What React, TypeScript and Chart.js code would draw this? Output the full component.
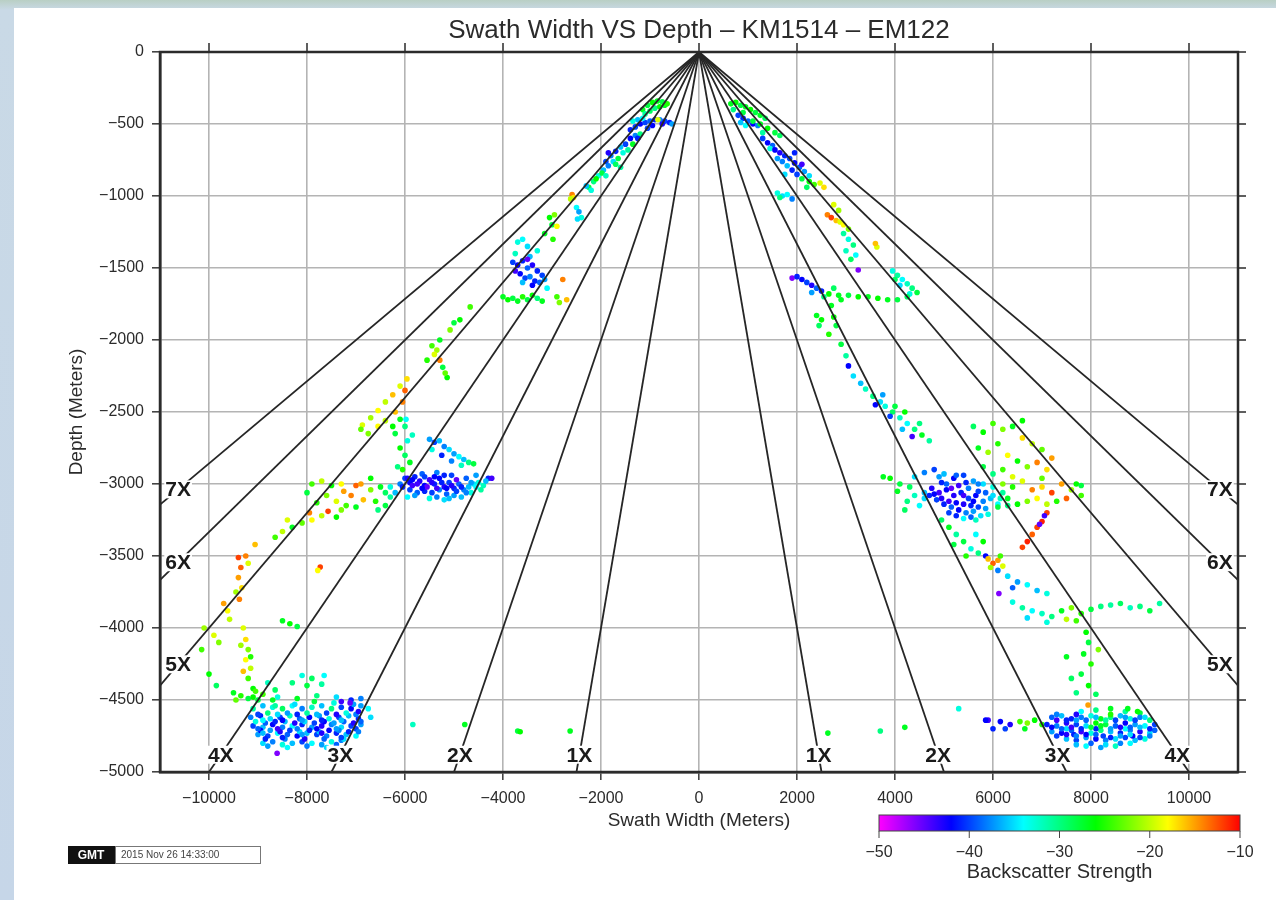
import React, { useEffect, useRef } from 'react';
import { Chart, registerables } from 'chart.js';

Chart.register(...registerables);

// ---------- data ----------
const TITLE = 'Swath Width VS Depth \u2013 KM1514 \u2013 EM122';
const X_TITLE = 'Swath Width (Meters)';
const Y_TITLE = 'Depth (Meters)';
const CB_TITLE = 'Backscatter Strength';
const STAMP = '2015 Nov 26 14:33:00';

const X_MIN = -11000;
const X_MAX = 11000;
const X_TICKS = [-10000, -8000, -6000, -4000, -2000, 0, 2000, 4000, 6000, 8000, 10000];
const Y_MIN = -5000;
const Y_MAX = 0;
const Y_STEP = 500;

// coverage ratio lines (swath width = ratio x depth)
const RATIOS = [1, 2, 3, 4, 5, 6, 7];
const RATIO_LINE_DEPTH = -5000;
const RATIO_LABEL_DEPTH = -4880;
const RATIO_LABEL_X = 10630;

// colour scale (backscatter, dB)
const CB_MIN = -50;
const CB_MAX = -10;
const CB_TICKS = [-50, -40, -30, -20, -10];
const CPT_STOPS = [-50, -42, -34, -26, -18, -10];
const CPT_COLORS = [
  [255, 0, 255],
  [0, 0, 255],
  [0, 255, 255],
  [0, 255, 0],
  [255, 255, 0],
  [255, 0, 0],
];

// soundings: [across-track (m), depth (m), backscatter (dB)]
const PORT_SHALLOW: number[][] = [
  [-1150, -400, -27], [-1050, -370, -28], [-950, -350, -26], [-850, -340, -27], [-750, -345, -28],
  [-1000, -410, -29], [-900, -390, -30], [-800, -380, -26], [-700, -370, -27], [-1100, -430, -31], [-650, -360, -25],
  [-1400, -540, -41], [-1300, -520, -40], [-1200, -500, -42], [-1100, -490, -40], [-1000, -480, -39],
  [-900, -470, -41], [-800, -470, -38], [-700, -480, -40], [-600, -490, -41], [-550, -500, -37],
  [-1250, -470, -36], [-1150, -460, -34], [-840, -470, -19], [-950, -510, -42], [-1050, -530, -40],
  [-1350, -480, -33], [-750, -500, -43],
  [-1900, -760, -40], [-1800, -720, -38], [-1700, -690, -41], [-1600, -660, -36], [-1500, -640, -40],
  [-1400, -600, -42], [-1300, -580, -38], [-1200, -570, -30], [-1650, -740, -28], [-1550, -700, -33],
  [-1450, -680, -31], [-1350, -640, -27], [-1750, -760, -35], [-1250, -600, -41], [-1850, -700, -43],
  [-2250, -940, -28], [-2150, -900, -30], [-2050, -860, -33], [-1950, -820, -36], [-1850, -790, -38],
  [-2200, -960, -33], [-2100, -880, -26], [-1980, -840, -28], [-2300, -930, -36], [-1900, -860, -32],
  [-1700, -780, -29], [-1600, -800, -31],
  [-2590, -990, -14], [-2560, -1010, -17], [-2620, -1020, -20],
  [-2500, -1080, -34], [-2450, -1110, -37], [-2400, -1150, -33], [-2480, -1160, -35],
  [-3050, -1150, -26], [-2950, -1130, -22], [-3000, -1200, -28], [-2900, -1210, -18],
  [-3150, -1260, -27], [-2980, -1300, -25],
  [-3700, -1320, -33], [-3600, -1300, -34], [-3500, -1350, -35], [-3750, -1400, -32], [-3450, -1420, -36], [-3300, -1380, -33],
  [-3800, -1460, -40], [-3700, -1480, -42], [-3600, -1450, -41], [-3500, -1500, -39], [-3400, -1480, -43],
  [-3300, -1520, -41], [-3200, -1550, -40], [-3650, -1540, -42], [-3550, -1570, -40], [-3450, -1560, -38],
  [-3350, -1590, -41], [-3250, -1600, -39], [-3150, -1580, -37], [-3750, -1520, -44], [-3600, -1600, -36],
  [-3100, -1640, -34], [-3400, -1620, -42], [-3500, -1440, -45],
  [-2780, -1580, -14],
  [-4000, -1700, -27], [-3900, -1720, -26], [-3800, -1710, -28], [-3700, -1730, -27], [-3600, -1700, -25],
  [-3500, -1720, -28], [-3400, -1690, -26], [-3300, -1710, -30], [-3200, -1730, -27], [-2900, -1700, -24],
  [-2700, -1720, -16], [-2850, -1740, -22],
];

const PORT_MID: number[][] = [
  [-4670, -1770, -24], [-4880, -1860, -26], [-5080, -1930, -22], [-5290, -2000, -27], [-5350, -2070, -21],
  [-5550, -2140, -25], [-5230, -2190, -28], [-5140, -2260, -26], [-5290, -2140, -14], [-5400, -2100, -19],
  [-5180, -2230, -23], [-5000, -1880, -28], [-5450, -2040, -24],
  [-5960, -2270, -17], [-6100, -2320, -19], [-6250, -2380, -16], [-6400, -2430, -20], [-6550, -2490, -18],
  [-6700, -2540, -21], [-6870, -2590, -19], [-6900, -2620, -23], [-6750, -2650, -22], [-6550, -2600, -18],
  [-6400, -2560, -20], [-6200, -2500, -16], [-6050, -2430, -14], [-6000, -2350, -13],
  [-6100, -2550, -27], [-6000, -2600, -30], [-6200, -2650, -28], [-5950, -2700, -33], [-6100, -2750, -26],
  [-6000, -2800, -29], [-5900, -2850, -27], [-6150, -2880, -30], [-5850, -2660, -32], [-6050, -2900, -25],
  [-6250, -2600, -26], [-5980, -2550, -34],
  [-5500, -2690, -37], [-5400, -2710, -40], [-5300, -2700, -36], [-5200, -2740, -38], [-5100, -2760, -35],
  [-5000, -2790, -37], [-4900, -2810, -34], [-4800, -2830, -36], [-4700, -2850, -30], [-4600, -2860, -28],
  [-5450, -2760, -33], [-5250, -2800, -41], [-5050, -2840, -38], [-4850, -2870, -32],
  [-6100, -3000, -38], [-6000, -2960, -40], [-5900, -2990, -42], [-5800, -2950, -41], [-5700, -2980, -43],
  [-5600, -3010, -42], [-5500, -2970, -44], [-5400, -3000, -41], [-5300, -2960, -42], [-5200, -3020, -43],
  [-5100, -2990, -40], [-5000, -3030, -41], [-4900, -3000, -39], [-4800, -3040, -38], [-4700, -3020, -36],
  [-4600, -3000, -35], [-4500, -2990, -33], [-4400, -3010, -32], [-5900, -3040, -40], [-5750, -3060, -39],
  [-5600, -3050, -41], [-5450, -3060, -40], [-5300, -3040, -38], [-5150, -3070, -39], [-5000, -3080, -37],
  [-4850, -3090, -36], [-5650, -2930, -39], [-5350, -2920, -38], [-5050, -2940, -40], [-4750, -2960, -39],
  [-4550, -2940, -37], [-4300, -2960, -41], [-4230, -2960, -44], [-6200, -3060, -36], [-5950, -3090, -34],
  [-5500, -3100, -33], [-5200, -3110, -35], [-4950, -2970, -45], [-5550, -3020, -45], [-5850, -3010, -44],
  [-4650, -3060, -33], [-4450, -3040, -31],
  [-6050, -3020, -41], [-5950, -2960, -43], [-5850, -2970, -42], [-5750, -3000, -44], [-5650, -3030, -42],
  [-5450, -2990, -43], [-5350, -3030, -44], [-5250, -2990, -41], [-5150, -3030, -42], [-5050, -3010, -43],
  [-4950, -3050, -40], [-4850, -3020, -41], [-4750, -3060, -38], [-5400, -2950, -42], [-5600, -2950, -40],
  [-5200, -2940, -41], [-5800, -3080, -37], [-5350, -3090, -38], [-5100, -3100, -36], [-4650, -2990, -37],
  [-4550, -3020, -34], [-4350, -2980, -36],
  [-7900, -3000, -24], [-7700, -2980, -20], [-7500, -3010, -26], [-7300, -3000, -18], [-7000, -3010, -13],
  [-6900, -3000, -15], [-6700, -3040, -22], [-6500, -3020, -27], [-6400, -3060, -29], [-6300, -3090, -31],
  [-7100, -3080, -14], [-6850, -3110, -16], [-6600, -3120, -25], [-6400, -3150, -28], [-7600, -3080, -22],
  [-7400, -3120, -19], [-7200, -3150, -24], [-7000, -3160, -27], [-7800, -3130, -25], [-8000, -3060, -28],
  [-6700, -2960, -26], [-6550, -3180, -30], [-6300, -3020, -33], [-7250, -3050, -15],
  [-7570, -3190, -12], [-7700, -3220, -20], [-7900, -3250, -18], [-8100, -3270, -23], [-8300, -3300, -27],
  [-8500, -3330, -20], [-8650, -3370, -24], [-7400, -3230, -26], [-7300, -3180, -22], [-7950, -3200, -14],
  [-8400, -3250, -19],
];

const PORT_DEEP: number[][] = [
  [-9060, -3420, -16], [-9400, -3510, -12], [-9250, -3500, -14], [-9350, -3580, -13], [-9400, -3650, -15],
  [-9330, -3720, -17], [-9380, -3800, -14], [-9200, -3550, -19], [-9450, -3750, -21],
  [-7730, -3576, -12], [-7780, -3600, -18],
  [-9700, -3830, -15], [-9620, -3880, -18], [-9580, -3940, -20],
  [-10100, -4000, -21], [-9900, -4050, -19], [-10150, -4150, -24], [-9800, -4100, -22],
  [-8500, -3950, -27], [-8350, -3970, -26], [-8200, -3990, -28],
  [-9300, -4000, -19], [-9250, -4080, -17], [-9200, -4150, -22], [-9250, -4220, -18], [-9150, -4280, -20],
  [-9200, -4350, -24], [-9100, -4420, -26], [-9300, -4300, -16], [-9150, -4200, -25], [-9350, -4120, -21],
  [-10000, -4320, -26], [-9850, -4400, -29],
  [-9500, -4450, -27], [-9350, -4470, -25], [-9200, -4490, -28], [-9050, -4440, -24], [-9450, -4500, -23],
  [-8300, -4380, -30], [-8100, -4330, -33], [-7900, -4350, -29], [-7700, -4390, -31], [-8000, -4400, -28],
  [-7650, -4330, -34], [-8800, -4380, -32], [-8650, -4430, -29],
  [-9000, -4500, -28], [-8600, -4480, -33], [-8200, -4490, -27], [-7800, -4470, -30], [-7400, -4480, -35],
  [-7100, -4500, -41], [-6900, -4490, -38],
  [-9100, -4560, -31], [-8900, -4540, -36], [-8700, -4550, -33], [-8500, -4560, -29], [-8300, -4540, -34],
  [-8100, -4560, -38], [-7900, -4550, -32], [-7700, -4540, -36], [-7500, -4560, -30], [-7300, -4550, -40],
  [-7100, -4560, -42], [-6900, -4540, -37], [-6750, -4560, -34],
  [-9150, -4620, -38], [-8950, -4610, -41], [-8750, -4630, -35], [-8550, -4620, -40], [-8350, -4610, -32],
  [-8150, -4630, -39], [-7950, -4620, -42], [-7750, -4610, -37], [-7550, -4630, -33], [-7350, -4620, -40],
  [-7150, -4610, -36], [-6950, -4630, -41], [-6700, -4620, -35],
  [-9100, -4680, -40], [-8900, -4690, -36], [-8700, -4670, -42], [-8500, -4690, -38], [-8300, -4680, -34],
  [-8100, -4670, -41], [-7900, -4690, -37], [-7700, -4680, -43], [-7500, -4670, -38], [-7300, -4690, -35],
  [-7100, -4680, -40], [-6900, -4670, -37],
  [-9000, -4740, -37], [-8800, -4750, -40], [-8600, -4730, -34], [-8400, -4740, -39], [-8200, -4750, -42],
  [-8000, -4730, -36], [-7800, -4740, -40], [-7600, -4750, -38], [-7400, -4730, -41], [-7200, -4740, -36],
  [-7000, -4750, -34],
  [-8900, -4800, -35], [-8700, -4790, -38], [-8500, -4810, -33], [-8300, -4800, -36], [-8100, -4790, -40],
  [-7900, -4800, -34], [-7700, -4810, -37], [-7500, -4790, -33], [-7300, -4780, -38],
  [-9050, -4650, -33], [-8850, -4660, -39], [-8650, -4650, -41], [-8450, -4650, -36], [-8250, -4660, -43],
  [-8050, -4650, -35], [-7850, -4660, -40], [-7650, -4650, -42], [-7450, -4660, -37], [-7250, -4650, -39],
  [-7050, -4660, -43], [-8950, -4710, -42], [-8750, -4710, -37], [-8550, -4720, -43], [-8350, -4710, -40],
  [-8150, -4720, -35], [-7950, -4710, -41], [-7750, -4720, -36], [-7550, -4710, -42], [-7350, -4710, -38],
  [-7150, -4720, -41], [-8800, -4590, -30], [-8400, -4590, -37], [-8000, -4590, -31], [-7600, -4590, -40],
  [-7200, -4590, -33], [-8850, -4770, -41], [-8450, -4770, -38], [-8050, -4770, -43], [-7650, -4770, -39],
  [-7250, -4770, -35],
  [-9000, -4600, -40], [-8600, -4600, -35], [-8200, -4600, -41], [-7800, -4600, -36], [-7400, -4600, -43],
  [-7000, -4600, -38], [-8900, -4640, -34], [-8500, -4640, -42], [-8100, -4640, -37], [-7700, -4640, -41],
  [-7300, -4640, -36], [-6900, -4650, -39], [-9000, -4700, -39], [-8600, -4700, -44], [-8200, -4700, -38],
  [-7800, -4700, -42], [-7400, -4700, -37], [-7000, -4700, -40], [-8900, -4730, -36], [-8500, -4760, -41],
  [-8100, -4740, -37], [-7700, -4730, -43], [-7300, -4760, -40], [-6950, -4720, -38], [-8800, -4820, -37],
  [-8400, -4830, -34], [-8000, -4820, -38], [-7600, -4830, -35], [-7400, -4810, -39], [-8650, -4540, -31],
  [-8250, -4530, -35], [-7850, -4510, -28], [-7450, -4520, -33], [-7050, -4530, -37],
  [-9100, -4480, -26], [-8900, -4460, -24], [-8700, -4500, -27],
  [-8610, -4870, -46], [-7120, -4520, -45], [-7300, -4510, -44], [-6950, -4580, -43],
  [-5840, -4670, -32], [-4780, -4670, -27], [-3700, -4715, -28], [-3650, -4720, -26], [-2630, -4715, -27],
];

const STBD_SHALLOW: number[][] = [
  [650, -360, -27], [750, -350, -26], [850, -370, -28], [950, -380, -27], [1050, -400, -26],
  [1150, -420, -28], [1250, -440, -27], [1350, -460, -29], [700, -400, -30], [900, -420, -28],
  [800, -440, -40], [900, -460, -41], [1000, -480, -39], [1100, -500, -42], [1200, -510, -38],
  [850, -490, -36], [950, -510, -34],
  [1100, -480, -28], [1250, -500, -27], [1400, -530, -26], [1550, -560, -28], [1650, -580, -29], [1300, -560, -31],
  [1300, -600, -40], [1400, -630, -42], [1500, -650, -39], [1450, -670, -33],
  [1550, -680, -42], [1650, -700, -43], [1750, -720, -41], [1850, -740, -40], [1950, -770, -42],
  [2050, -800, -39], [2150, -830, -37], [2250, -860, -35], [1700, -760, -38], [1800, -790, -36],
  [1900, -820, -41], [2000, -850, -40], [1600, -740, -37], [2100, -780, -44], [1950, -700, -41], [1750, -850, -35],
  [1600, -980, -33], [1700, -1000, -35], [1800, -990, -34], [1900, -1020, -38], [1650, -1010, -30],
  [2100, -880, -28], [2250, -900, -26], [2350, -920, -24], [2470, -910, -19], [2550, -940, -17], [2200, -940, -29],
  [2620, -1130, -14], [2700, -1150, -12], [2800, -1170, -16], [2880, -1180, -19],
  [2750, -1060, -19], [2850, -1100, -21], [2950, -1200, -18], [3050, -1230, -22],
  [2950, -1260, -31], [3050, -1300, -33], [3150, -1340, -30], [3000, -1380, -32], [3200, -1410, -34], [3100, -1440, -29],
  [3630, -1354, -19], [3600, -1330, -16], [3250, -1514, -46],
  [3950, -1520, -33], [4050, -1550, -31], [4150, -1580, -34], [4250, -1610, -32], [4350, -1640, -30],
  [4450, -1670, -28], [4100, -1620, -35], [4300, -1680, -33], [4000, -1580, -29],
  [1900, -1570, -46], [2000, -1560, -41], [2100, -1580, -42], [2200, -1600, -40], [2300, -1620, -43],
  [2400, -1640, -39], [2300, -1670, -37], [2500, -1660, -41],
  [2650, -1680, -26], [2850, -1690, -27], [3050, -1690, -28], [3250, -1700, -26], [3450, -1700, -27],
  [3650, -1710, -26], [3850, -1720, -27], [4050, -1720, -28], [4250, -1700, -29], [2750, -1640, -29], [2550, -1700, -30],
  [2700, -1760, -27], [2750, -1840, -26], [2800, -1900, -28], [2650, -1960, -25], [2900, -1720, -27],
  [2400, -1830, -27], [2500, -1860, -26], [2450, -1900, -29],
  [2900, -2030, -28], [3000, -2110, -31], [3050, -2180, -42], [3150, -2250, -35], [3300, -2300, -36],
];

const STBD_MID: number[][] = [
  [3400, -2340, -32], [3550, -2390, -30], [3700, -2430, -35], [3800, -2460, -33], [3950, -2500, -29],
  [4100, -2540, -32], [4250, -2580, -34], [4400, -2620, -30], [4550, -2660, -27], [4700, -2700, -31],
  [3600, -2450, -42], [3900, -2530, -40], [4350, -2670, -44], [4000, -2460, -28], [4200, -2500, -26],
  [4500, -2580, -30], [3750, -2380, -37], [4150, -2620, -36],
  [5600, -2600, -29], [5800, -2640, -26], [6000, -2580, -24], [6200, -2620, -22], [6400, -2600, -27],
  [6600, -2680, -17], [6800, -2720, -20], [7000, -2760, -23], [5700, -2750, -27], [5900, -2780, -21],
  [6100, -2720, -25], [6300, -2800, -18], [6500, -2840, -26], [6700, -2880, -22], [6900, -2850, -14],
  [7100, -2900, -17], [6200, -2900, -24], [6400, -2950, -19], [5800, -2880, -28], [6000, -2930, -30],
  [6600, -2560, -26], [7200, -2820, -15],
  [4400, -2950, -35], [4600, -2920, -38], [4800, -2900, -40], [5000, -2930, -36], [5200, -2960, -42],
  [5400, -2940, -40], [5600, -2980, -37], [5800, -3000, -35], [6000, -3020, -33], [6200, -3060, -31],
  [4750, -3030, -43], [4900, -3060, -44], [5050, -3040, -42], [5200, -3080, -43], [5350, -3060, -41],
  [5500, -3100, -40], [5650, -3080, -42], [5800, -3120, -38], [5950, -3100, -36], [6100, -3140, -34],
  [4850, -3110, -40], [5000, -3140, -41], [5150, -3160, -39], [5300, -3180, -42], [5450, -3200, -38],
  [5600, -3190, -37], [5750, -3220, -35], [5900, -3210, -33], [5050, -3000, -39], [5300, -3010, -44],
  [5500, -3030, -38], [4950, -2990, -41], [5700, -3050, -40], [6300, -3150, -30], [5400, -3240, -34],
  [5650, -3250, -32], [4600, -3060, -36],
  [4800, -3070, -42], [4950, -3100, -43], [5100, -3120, -44], [5250, -3130, -42], [5400, -3140, -43],
  [5550, -3150, -41], [5700, -3160, -40], [5850, -3170, -37], [5100, -3200, -40], [5250, -3220, -41],
  [5550, -3230, -39], [4700, -3080, -41], [5150, -3030, -45], [5400, -3080, -44], [5600, -3120, -42],
  [5450, -2990, -41], [5250, -2940, -39], [5700, -3000, -38], [4900, -2950, -37], [5850, -3060, -39],
  [6000, -3080, -35], [6150, -3100, -32],
  [3760, -2950, -27], [3900, -2960, -26], [4100, -3000, -28], [4300, -3020, -29], [4400, -3080, -32],
  [4250, -3120, -30], [4500, -3150, -34], [4050, -3050, -27], [4600, -3100, -35], [4200, -3180, -29],
  [6200, -3000, -22], [6400, -3020, -25], [6600, -2980, -19], [6800, -3040, -14], [7000, -3020, -17],
  [7200, -3060, -12], [7400, -3000, -15], [7600, -3040, -21], [7800, -3080, -24], [6300, -3100, -27],
  [6500, -3140, -26], [6700, -3120, -22], [6900, -3100, -18], [7100, -3140, -20], [7300, -3120, -25],
  [7500, -3100, -13], [7700, -3000, -26], [7800, -3010, -28], [6100, -3160, -28], [7000, -2960, -23],
  [7100, -3200, -12], [7000, -3260, -11], [6900, -3300, -12], [6800, -3350, -13], [6700, -3400, -11],
  [6600, -3440, -12], [7050, -3220, -44], [6950, -3280, -45],
  [4950, -3250, -29], [5100, -3300, -27], [5250, -3350, -31], [5400, -3400, -28], [5550, -3450, -33],
  [5700, -3480, -30], [5800, -3400, -26], [5650, -3350, -34], [5200, -3420, -28], [5450, -3500, -25],
  [5850, -3500, -42],
  [5900, -3520, -16], [6000, -3550, -13], [6100, -3530, -15], [6200, -3570, -19], [5950, -3580, -21], [6150, -3500, -24],
  [6100, -3600, -38], [6300, -3640, -35], [6500, -3680, -37], [6700, -3700, -34], [6900, -3740, -36],
  [7100, -3760, -33], [6400, -3720, -39], [6120, -3760, -46],
  [6400, -3820, -33], [6600, -3860, -31], [6800, -3880, -34], [7000, -3900, -32], [7200, -3920, -30],
  [7400, -3880, -27], [7600, -3860, -22], [7800, -3900, -25], [8000, -3870, -28], [8200, -3850, -30],
  [8400, -3840, -31], [8600, -3830, -29], [8800, -3860, -32], [9000, -3850, -30], [9400, -3830, -31],
  [7500, -3940, -20], [7700, -3950, -24], [6700, -3930, -35], [7100, -3960, -33], [9200, -3880, -28],
];

const STBD_DEEP: number[][] = [
  [7900, -4030, -26], [7950, -4100, -28], [7850, -4180, -27], [8000, -4250, -25], [7800, -4320, -28],
  [7950, -4400, -26], [8100, -4460, -29], [7500, -4200, -27], [7600, -4350, -29], [8150, -4150, -22],
  [7700, -4450, -30], [7940, -4535, -15],
  [6550, -4650, -24], [6700, -4660, -22], [6850, -4640, -26], [7000, -4670, -25], [6650, -4700, -27],
  [6150, -4650, -42], [6250, -4700, -40], [6350, -4670, -43], [5900, -4640, -44], [6000, -4700, -41],
  [7800, -4580, -34], [8100, -4570, -30], [8400, -4560, -27], [8700, -4580, -31], [9000, -4590, -28],
  [7200, -4620, -39], [7400, -4610, -36], [7600, -4630, -41], [7800, -4620, -38], [8000, -4610, -33],
  [8200, -4630, -27], [8400, -4620, -30], [8600, -4610, -36], [8800, -4630, -33], [9000, -4620, -38],
  [9200, -4640, -30],
  [7100, -4670, -41], [7300, -4680, -38], [7500, -4660, -43], [7700, -4670, -40], [7900, -4680, -35],
  [8100, -4660, -26], [8300, -4670, -28], [8500, -4680, -39], [8700, -4660, -42], [8900, -4670, -37],
  [9100, -4680, -34], [9300, -4670, -40],
  [7200, -4720, -37], [7400, -4730, -42], [7600, -4710, -39], [7800, -4720, -44], [8000, -4730, -33],
  [8200, -4710, -30], [8400, -4720, -36], [8600, -4730, -41], [8800, -4710, -38], [9000, -4720, -43],
  [9200, -4730, -35],
  [7500, -4770, -36], [7700, -4780, -40], [7900, -4760, -37], [8100, -4770, -42], [8300, -4780, -38],
  [8500, -4770, -35], [8700, -4760, -40], [8900, -4780, -36], [9100, -4770, -33],
  [7900, -4820, -34], [8200, -4830, -37], [8500, -4820, -32],
  [7300, -4640, -44], [7700, -4640, -37], [8300, -4640, -31], [8900, -4640, -40], [7500, -4700, -35],
  [8100, -4700, -41], [8700, -4700, -34], [9300, -4710, -39], [7650, -4740, -41], [8250, -4750, -40],
  [8850, -4750, -42], [8400, -4600, -25],
  [7300, -4600, -38], [7500, -4640, -41], [7700, -4600, -43], [7900, -4640, -39], [8100, -4620, -36],
  [8500, -4640, -40], [8700, -4620, -37], [9100, -4620, -35], [7200, -4690, -42], [7400, -4700, -39],
  [7600, -4690, -44], [7800, -4700, -41], [8000, -4690, -28], [8200, -4680, -27], [8400, -4700, -37],
  [8600, -4690, -43], [8800, -4690, -39], [9000, -4690, -36], [9200, -4700, -41], [7300, -4750, -40],
  [7500, -4740, -43], [7700, -4750, -38], [7900, -4740, -42], [8100, -4740, -39], [8400, -4760, -41],
  [8600, -4750, -37], [8800, -4740, -35], [9000, -4760, -40], [9200, -4750, -38], [7700, -4810, -36],
  [8000, -4800, -39], [8300, -4810, -35], [8600, -4800, -38], [8800, -4800, -34],
  [8750, -4560, -27], [8950, -4580, -26],
  [2630, -4730, -27], [3700, -4715, -30], [4200, -4690, -27], [5300, -4560, -33], [5850, -4640, -42],
];

// ---------- helpers ----------
const FONT = '"Liberation Sans", Arial, Helvetica, sans-serif';
const INK = '#2b2b2b';

function bsColor(b: number): string {
  const v = Math.max(CB_MIN, Math.min(CB_MAX, b));
  for (let i = 0; i < CPT_STOPS.length - 1; i++) {
    if (v <= CPT_STOPS[i + 1]) {
      const t = (v - CPT_STOPS[i]) / (CPT_STOPS[i + 1] - CPT_STOPS[i]);
      const a = CPT_COLORS[i];
      const c = CPT_COLORS[i + 1];
      const r = Math.round(a[0] + (c[0] - a[0]) * t);
      const g = Math.round(a[1] + (c[1] - a[1]) * t);
      const bl = Math.round(a[2] + (c[2] - a[2]) * t);
      return `rgb(${r},${g},${bl})`;
    }
  }
  return 'rgb(255,0,0)';
}

const fmt = (v: number) => String(v).replace('-', '\u2212');

const decorPlugin = {
  id: 'gmtDecor',
  afterDatasetsDraw(chart: any) {
    const { ctx } = chart;
    const xs = chart.scales.x;
    const ys = chart.scales.y;
    ctx.save();
    // ratio labels with knockout
    ctx.font = `bold 21px ${FONT}`;
    ctx.textAlign = 'center';
    ctx.textBaseline = 'middle';
    RATIOS.forEach((r) => {
      const half = r / 2;
      let depth = RATIO_LABEL_DEPTH;
      let across = half * -RATIO_LABEL_DEPTH;
      if (across > RATIO_LABEL_X) {
        across = RATIO_LABEL_X;
        depth = -RATIO_LABEL_X / half;
      }
      [-1, 1].forEach((side) => {
        const px = xs.getPixelForValue(side * across);
        const py = ys.getPixelForValue(depth);
        const txt = `${r}X`;
        const w = ctx.measureText(txt).width;
        ctx.fillStyle = '#ffffff';
        ctx.fillRect(px - w / 2 - 1, py - 9, w + 2, 18);
        ctx.fillStyle = '#1a1a1a';
        ctx.fillText(txt, px, py + 1);
      });
    });
    ctx.restore();
  },
  afterDraw(chart: any) {
    const { ctx, chartArea } = chart;
    const xs = chart.scales.x;
    const ys = chart.scales.y;
    const { left, right, top, bottom } = chartArea;
    ctx.save();
    // frame
    ctx.strokeStyle = INK;
    ctx.lineWidth = 2.5;
    ctx.strokeRect(left, top, right - left, bottom - top);
    // top & right tick marks
    ctx.lineWidth = 1.5;
    ctx.beginPath();
    xs.ticks.forEach((t: any) => {
      const px = xs.getPixelForValue(t.value);
      ctx.moveTo(px, top);
      ctx.lineTo(px, top - 9);
    });
    ys.ticks.forEach((t: any) => {
      const py = ys.getPixelForValue(t.value);
      ctx.moveTo(right, py);
      ctx.lineTo(right + 8, py);
    });
    ctx.stroke();

    // title
    ctx.fillStyle = INK;
    ctx.font = `26px ${FONT}`;
    ctx.textAlign = 'center';
    ctx.textBaseline = 'middle';
    ctx.fillText(TITLE, (left + right) / 2, top - 21);

    // colour bar
    const cbL = 879;
    const cbR = 1240;
    const cbT = 815;
    const cbB = 831;
    const grad = ctx.createLinearGradient(cbL, 0, cbR, 0);
    CPT_STOPS.forEach((s, i) => {
      const c = CPT_COLORS[i];
      grad.addColorStop((s - CB_MIN) / (CB_MAX - CB_MIN), `rgb(${c[0]},${c[1]},${c[2]})`);
    });
    ctx.fillStyle = grad;
    ctx.fillRect(cbL, cbT, cbR - cbL, cbB - cbT);
    ctx.strokeStyle = '#444';
    ctx.lineWidth = 1;
    ctx.strokeRect(cbL, cbT, cbR - cbL, cbB - cbT);
    ctx.beginPath();
    ctx.font = `16px ${FONT}`;
    ctx.fillStyle = INK;
    CB_TICKS.forEach((v) => {
      const px = cbL + ((v - CB_MIN) / (CB_MAX - CB_MIN)) * (cbR - cbL);
      ctx.moveTo(px, cbB);
      ctx.lineTo(px, cbB + 7);
      ctx.fillText(fmt(v), px, 853);
    });
    ctx.stroke();
    ctx.font = `20px ${FONT}`;
    ctx.fillText(CB_TITLE, (cbL + cbR) / 2, 872);

    // GMT time stamp
    ctx.fillStyle = '#111';
    ctx.fillRect(68, 846, 47, 18);
    ctx.fillStyle = '#ffffff';
    ctx.font = `bold 12px ${FONT}`;
    ctx.fillText('GMT', 91, 855.5);
    ctx.strokeStyle = '#777';
    ctx.lineWidth = 1;
    ctx.strokeRect(115.5, 846.5, 145, 17);
    ctx.fillStyle = '#444';
    ctx.font = `10px ${FONT}`;
    ctx.textAlign = 'left';
    ctx.fillText(STAMP, 121, 855.5);
    ctx.restore();
  },
};

function toPoints(rows: number[][]) {
  return rows.map((r) => ({ x: r[0], y: r[1] }));
}

export default function App() {
  const ref = useRef<HTMLCanvasElement | null>(null);

  useEffect(() => {
    if (!ref.current) return;
    const all = [...PORT_SHALLOW, ...PORT_MID, ...PORT_DEEP, ...STBD_SHALLOW, ...STBD_MID, ...STBD_DEEP];

    const lineSets: any[] = [];
    RATIOS.forEach((r) => {
      [-1, 1].forEach((side) => {
        lineSets.push({
          type: 'line',
          label: `${r}X`,
          data: [
            { x: 0, y: 0 },
            { x: side * (r / 2) * -RATIO_LINE_DEPTH, y: RATIO_LINE_DEPTH },
          ],
          borderColor: '#262626',
          borderWidth: 1.8,
          pointRadius: 0,
          showLine: true,
          fill: false,
          tension: 0,
        });
      });
    });

    const chart = new Chart(ref.current, {
      type: 'scatter',
      data: {
        datasets: [
          ...lineSets,
          {
            type: 'scatter',
            label: 'soundings',
            data: toPoints(all),
            pointRadius: 2.8,
            pointBorderWidth: 0,
            pointBackgroundColor: all.map((r) => bsColor(r[2])),
            pointBorderColor: 'rgba(0,0,0,0)',
          },
        ],
      },
      options: {
        animation: false,
        responsive: false,
        devicePixelRatio: 1,
        events: [],
        layout: { padding: { left: 60, top: 52, right: 38, bottom: 68 } },
        plugins: {
          legend: { display: false },
          tooltip: { enabled: false },
          title: { display: false },
        },
        scales: {
          x: {
            type: 'linear',
            min: X_MIN,
            max: X_MAX,
            afterBuildTicks: (scale: any) => {
              scale.ticks = X_TICKS.map((v) => ({ value: v }));
            },
            afterFit: (scale: any) => {
              scale.height = 60;
            },
            ticks: {
              autoSkip: false,
              maxRotation: 0,
              padding: 9,
              color: INK,
              font: { family: FONT, size: 16 },
              callback: (v: any) => fmt(Number(v)),
            },
            grid: {
              color: '#b4b4b4',
              lineWidth: 1.6,
              tickLength: 8,
              tickColor: '#444',
            },
            border: { color: INK, width: 2.5 },
            title: {
              display: true,
              text: X_TITLE,
              color: INK,
              font: { family: FONT, size: 19 },
              padding: { top: 0, bottom: 0 },
            },
          },
          y: {
            type: 'linear',
            min: Y_MIN,
            max: Y_MAX,
            afterFit: (scale: any) => {
              scale.width = 100;
            },
            ticks: {
              stepSize: Y_STEP,
              autoSkip: false,
              padding: 8,
              color: INK,
              font: { family: FONT, size: 16 },
              callback: (v: any) => fmt(Number(v)),
            },
            grid: {
              color: '#b4b4b4',
              lineWidth: 1.6,
              tickLength: 8,
              tickColor: '#444',
            },
            border: { color: INK, width: 2.5 },
            title: {
              display: true,
              text: Y_TITLE,
              color: INK,
              font: { family: FONT, size: 19 },
              padding: { top: 5, bottom: 0 },
            },
          },
        },
      },
      plugins: [decorPlugin],
    } as any);

    return () => chart.destroy();
  }, []);

  return (
    <div
      style={{
        position: 'fixed',
        left: 0,
        top: 0,
        width: 1276,
        height: 900,
        overflow: 'hidden',
        background: 'linear-gradient(180deg, #b9cfc4 0px, #c9d9e6 10px, #c6d6e8 100%)',
      }}
    >
      <div
        style={{
          position: 'absolute',
          left: 14,
          top: 8,
          right: 0,
          bottom: 0,
          background: '#ffffff',
        }}
      />
      <canvas
        ref={ref}
        width={1276}
        height={900}
        style={{ position: 'absolute', left: 0, top: 0, width: 1276, height: 900 }}
      />
    </div>
  );
}
